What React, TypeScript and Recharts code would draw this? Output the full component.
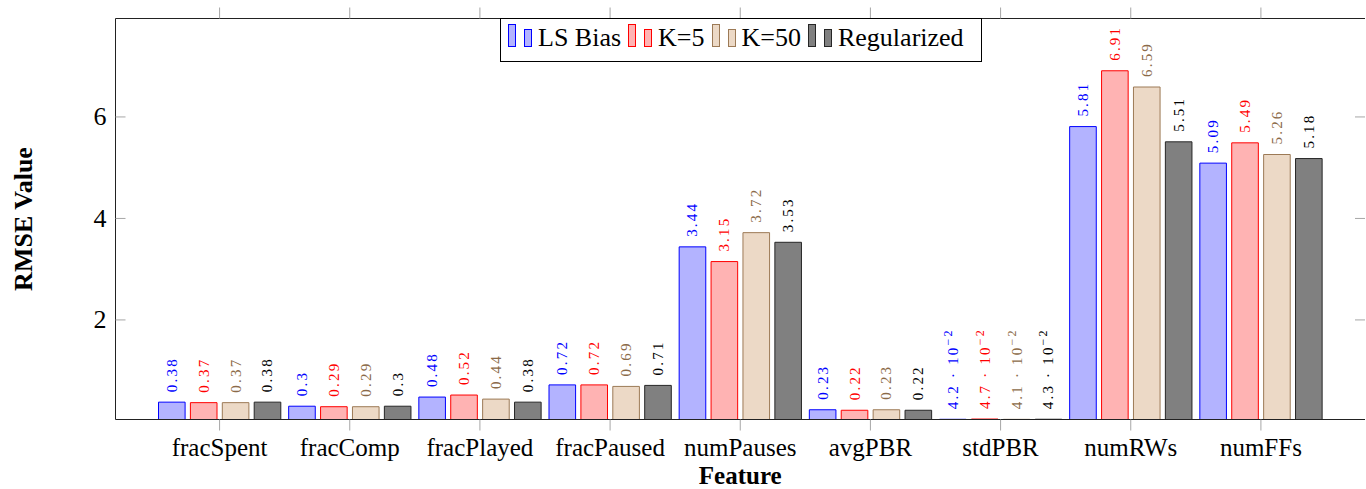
import { BarChart, Bar, XAxis, YAxis, Legend, LabelList, Label } from "recharts";

const features = [
  "fracSpent",
  "fracComp",
  "fracPlayed",
  "fracPaused",
  "numPauses",
  "avgPBR",
  "stdPBR",
  "numRWs",
  "numFFs",
];
const lsBias = [0.38, 0.3, 0.48, 0.72, 3.44, 0.23, 0.042, 5.81, 5.09];
const k5 = [0.37, 0.29, 0.52, 0.72, 3.15, 0.22, 0.047, 6.91, 5.49];
const k50 = [0.37, 0.29, 0.44, 0.69, 3.72, 0.23, 0.041, 6.59, 5.26];
const regularized = [0.38, 0.3, 0.38, 0.71, 3.53, 0.22, 0.043, 5.51, 5.18];
const yTicks = [2, 4, 6];
const yDomain = [0.038, 7.94];

const series = [
  { key: "lsBias", name: "LS Bias", fill: "#b3b3ff", stroke: "#0000ff", text: "#0000ff" },
  { key: "k5", name: "K=5", fill: "#ffb3b3", stroke: "#ff0000", text: "#ff0000" },
  { key: "k50", name: "K=50", fill: "#ecd9c6", stroke: "#9c7a56", text: "#8b6a48" },
  { key: "regularized", name: "Regularized", fill: "#808080", stroke: "#262626", text: "#000000" },
];

const data = features.map((feature, i) => ({
  feature,
  lsBias: lsBias[i],
  k5: k5[i],
  k50: k50[i],
  regularized: regularized[i],
}));

const FONT = "'Liberation Serif', 'Times New Roman', serif";
const TICK_GRAY = "#a6a6a6";

const makeValueLabel = (color: string) => (props: any) => {
  const { x, y, width, value } = props;
  const cx = x + width / 2;
  const by = y - 10;
  const small = value < 0.1;
  return (
    <text
      x={cx}
      y={by}
      transform={`rotate(-90 ${cx} ${by})`}
      fill={color}
      fontSize={15}
      letterSpacing={2.2}
      dominantBaseline="central"
      textAnchor="start"
      fontFamily={FONT}
    >
      {small ? (
        <>
          {(value * 100).toFixed(1)} · 10
          <tspan dy={-5} fontSize={12}>
            −2
          </tspan>
        </>
      ) : (
        String(value)
      )}
    </text>
  );
};

const BottomTick = (props: any) => {
  const { x, y, payload } = props;
  return (
    <g>
      <line x1={x} y1={y} x2={x} y2={y + 11} stroke={TICK_GRAY} />
      <text x={x} y={y + 36} textAnchor="middle" fontSize={25} fill="#000" fontFamily={FONT}>
        {payload.value}
      </text>
    </g>
  );
};

const TopTick = (props: any) => {
  const { x, y } = props;
  return <line x1={x} y1={y} x2={x} y2={y - 11} stroke={TICK_GRAY} />;
};

const LeftTick = (props: any) => {
  const { x, y, payload } = props;
  return (
    <g>
      <line x1={x} y1={y} x2={x + 10} y2={y} stroke={TICK_GRAY} />
      <text
        x={x - 9}
        y={y}
        textAnchor="end"
        dominantBaseline="central"
        fontSize={26}
        fill="#000"
        fontFamily={FONT}
      >
        {payload.value}
      </text>
    </g>
  );
};

const RightTick = (props: any) => {
  const { x, y } = props;
  return <line x1={x} y1={y} x2={x - 10} y2={y} stroke={TICK_GRAY} />;
};

const LegendBox = () => (
  <div
    style={{
      width: 482,
      height: 44,
      border: "1px solid #000",
      boxSizing: "border-box",
      background: "#fff",
      display: "flex",
      alignItems: "flex-start",
      fontFamily: FONT,
      fontSize: 26,
    }}
  >
    {series.map((s) => (
      <div key={s.key} style={{ display: "flex", alignItems: "flex-start" }}>
        <svg width={37} height={42} style={{ display: "block" }}>
          <rect x={7.5} y={5.5} width={7} height={22} fill={s.fill} stroke={s.stroke} />
          <rect x={23.5} y={10.5} width={7} height={17} fill={s.fill} stroke={s.stroke} />
        </svg>
        <span style={{ lineHeight: 1, marginTop: 6.2, whiteSpace: "nowrap" }}>{s.name}</span>
      </div>
    ))}
  </div>
);

const App = () => {
  return (
    <div style={{ position: "absolute", left: 0, top: 0, fontFamily: FONT }}>
      <BarChart
        width={1366}
        height={489}
        data={data}
        margin={{ top: 17.5, right: 0, left: 55.5, bottom: 39.5 }}
        barSize={26.6}
        barGap={5.3}
      >
        <XAxis
          dataKey="feature"
          height={30}
          padding={{ left: 39, right: 39 }}
          axisLine={{ stroke: "#222" }}
          tickLine={false}
          tickSize={0}
          tickMargin={0}
          tick={<BottomTick />}
          interval={0}
        >
          <Label
            content={(p: any) => {
              const vb = p.viewBox;
              return (
                <text
                  x={vb.x + vb.width / 2}
                  y={vb.y + 64}
                  textAnchor="middle"
                  fontSize={25}
                  fontWeight="bold"
                  fill="#000"
                  fontFamily={FONT}
                >
                  Feature
                </text>
              );
            }}
          />
        </XAxis>
        <XAxis
          xAxisId="top"
          orientation="top"
          dataKey="feature"
          height={1}
          padding={{ left: 39, right: 39 }}
          axisLine={{ stroke: "#222" }}
          tickLine={false}
          tickSize={0}
          tickMargin={0}
          tick={<TopTick />}
          interval={0}
        />
        <YAxis
          width={60}
          domain={yDomain}
          allowDataOverflow
          ticks={yTicks}
          axisLine={{ stroke: "#222" }}
          tickLine={false}
          tickSize={0}
          tickMargin={0}
          tick={<LeftTick />}
        >
          <Label
            content={(p: any) => {
              const vb = p.viewBox;
              const cx = vb.x + vb.width - 92;
              const cy = vb.y + vb.height / 2;
              return (
                <text
                  x={cx}
                  y={cy}
                  transform={`rotate(-90 ${cx} ${cy})`}
                  textAnchor="middle"
                  dominantBaseline="central"
                  fontSize={26}
                  fontWeight="bold"
                  fill="#000"
                  fontFamily={FONT}
                >
                  RMSE Value
                </text>
              );
            }}
          />
        </YAxis>
        <YAxis
          yAxisId="right"
          orientation="right"
          width={1}
          domain={yDomain}
          allowDataOverflow
          ticks={yTicks}
          axisLine={false}
          tickLine={false}
          tickSize={0}
          tickMargin={0}
          tick={<RightTick />}
        />
        <Legend
          layout="horizontal"
          verticalAlign="middle"
          align="center"
          content={<LegendBox />}
          wrapperStyle={{ left: 500, top: 18, width: 482, height: 44 }}
        />
        {series.map((s) => (
          <Bar
            key={s.key}
            dataKey={s.key}
            name={s.name}
            fill={s.fill}
            stroke={s.stroke}
            strokeWidth={1}
            isAnimationActive={false}
          >
            <LabelList dataKey={s.key} content={makeValueLabel(s.text)} />
          </Bar>
        ))}
      </BarChart>
    </div>
  );
};

export default App;
